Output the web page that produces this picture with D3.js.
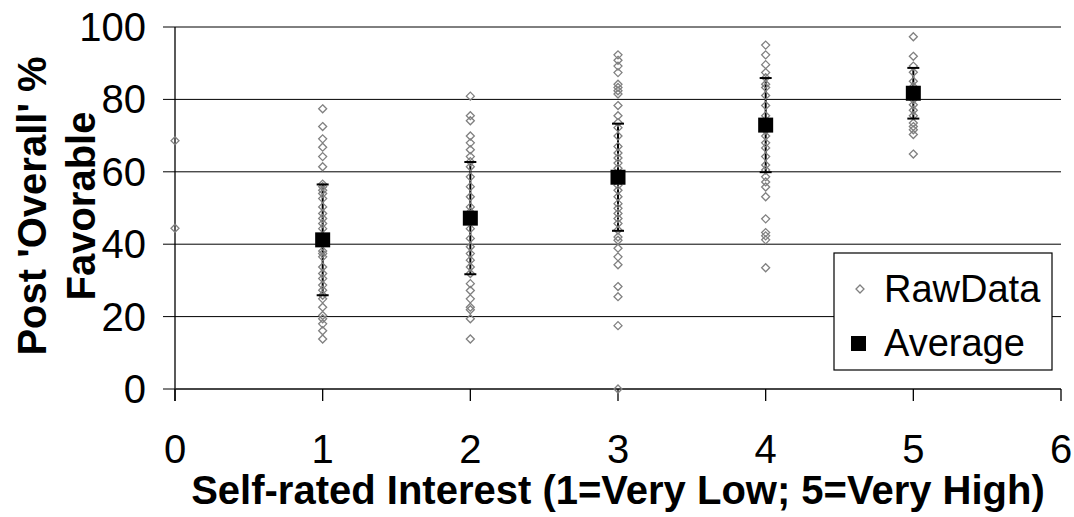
<!DOCTYPE html>
<html>
<head>
<meta charset="utf-8">
<script src="https://cdn.jsdelivr.net/npm/d3@7"></script>
<style>
  body { margin: 0; background: #fff; }
  text { font-family: "Liberation Sans", Arial, sans-serif; fill: #000; }
</style>
</head>
<body>
<svg id="chart"></svg>
<script>
// raw responses, one array per interest level
const raw0 = [68.6, 44.4];
const raw1 = [77.4, 72.5, 69.1, 66.8, 64.2, 61.4, 56.6, 55.9, 54.9, 54.0, 52.6, 50.3, 48.5, 47.1,
  45.7, 44.3, 42.0, 40.6, 38.1, 37.4, 36.5, 33.7, 31.9, 30.5, 28.7, 27.3, 25.9, 24.9, 22.6, 20.3,
  19.4, 18.0, 16.1, 13.8];
const raw2 = [80.9, 75.5, 74.1, 69.9, 68.0, 66.1, 64.2, 62.8, 61.4, 58.6, 55.9, 53.1, 50.3, 48.9,
  46.5, 44.3, 41.6, 39.3, 37.4, 35.6, 33.7, 31.9, 29.1, 27.2, 24.9, 22.6, 21.9, 19.4, 13.8];
const raw3 = [92.3, 90.8, 89.2, 87.4, 84.2, 83.3, 82.4, 81.5, 78.3, 75.5, 73.6, 72.2, 69.9, 67.0,
  65.2, 63.8, 62.4, 61.0, 59.0, 57.5, 56.3, 54.9, 53.1, 51.2, 49.9, 48.5, 47.1, 45.7, 43.9, 42.0,
  41.1, 38.9, 36.5, 34.3, 28.3, 25.5, 17.5, 0];
const raw4 = [95.0, 92.3, 89.6, 87.4, 86.0, 84.2, 83.3, 81.1, 78.3, 75.5, 73.5, 71.5, 69.9, 68.0,
  66.6, 64.2, 61.9, 60.5, 58.6, 57.2, 55.8, 53.1, 47.0, 43.2, 42.3, 41.2, 33.5];
const raw5 = [97.3, 91.9, 89.2, 87.5, 85.0, 83.5, 80.0, 78.5, 77.0, 75.5, 73.5, 72.5, 71.6, 70.3, 64.9];
const rawLevels = [raw0, raw1, raw2, raw3, raw4, raw5];

// averages with +/- error
const avgX = [1, 2, 3, 4, 5];
const avgY = [41.2, 47.2, 58.5, 72.9, 81.7];
const avgErr = [15.3, 15.5, 14.8, 13.0, 7.0];

const xTicks = [0, 1, 2, 3, 4, 5, 6];
const yTicks = [0, 20, 40, 60, 80, 100];
const legendLabels = ["RawData", "Average"];

const W = 1074, H = 517;
const plot = { left: 175, right: 1061, top: 27, bottom: 389 };

const svg = d3.select("#chart")
  .attr("width", W)
  .attr("height", H);

const x = d3.scaleLinear().domain([0, 6]).range([plot.left, plot.right]);
const y = d3.scaleLinear().domain([0, 100]).range([plot.bottom, plot.top]);

// gridlines
svg.append("g")
  .selectAll("line")
  .data(yTicks)
  .enter()
  .append("line")
  .attr("x1", plot.left - 12)
  .attr("x2", plot.right)
  .attr("y1", (d) => y(d))
  .attr("y2", (d) => y(d))
  .attr("stroke", "#000")
  .attr("stroke-width", 1);

// y axis
svg.append("line")
  .attr("x1", plot.left).attr("x2", plot.left)
  .attr("y1", plot.top).attr("y2", plot.bottom + 12)
  .attr("stroke", "#000").attr("stroke-width", 1.3);

svg.append("g")
  .selectAll("text")
  .data(yTicks)
  .enter()
  .append("text")
  .attr("x", 146)
  .attr("y", (d) => y(d) + 14)
  .attr("text-anchor", "end")
  .style("font-size", "40px")
  .text((d) => d);

// x axis
svg.append("line")
  .attr("x1", plot.left).attr("x2", plot.right)
  .attr("y1", y(0)).attr("y2", y(0))
  .attr("stroke", "#333").attr("stroke-width", 1.5);

svg.append("g")
  .selectAll("line")
  .data(xTicks)
  .enter()
  .append("line")
  .attr("x1", (d) => x(d)).attr("x2", (d) => x(d))
  .attr("y1", y(0)).attr("y2", y(0) + 12)
  .attr("stroke", "#000").attr("stroke-width", 1.3);

svg.append("g")
  .selectAll("text")
  .data(xTicks)
  .enter()
  .append("text")
  .attr("x", (d) => x(d))
  .attr("y", 463)
  .attr("text-anchor", "middle")
  .style("font-size", "40px")
  .text((d) => d);

// axis titles
svg.append("text")
  .attr("x", x(3))
  .attr("y", 504)
  .attr("text-anchor", "middle")
  .style("font-size", "40px")
  .style("font-weight", "bold")
  .text("Self-rated Interest (1=Very Low; 5=Very High)");

const yTitle = svg.append("text")
  .attr("transform", `translate(0, ${(plot.top + plot.bottom) / 2 - 2}) rotate(-90)`)
  .attr("text-anchor", "middle")
  .style("font-size", "40px")
  .style("font-weight", "bold");
yTitle.append("tspan").attr("x", 0).attr("y", 46).text("Post 'Overall' %");
yTitle.append("tspan").attr("x", 0).attr("y", 95).text("Favorable");

// error bars
const avgData = avgX.map((v, i) => ({ x: v, y: avgY[i], e: avgErr[i] }));
svg.append("g")
  .selectAll("line")
  .data(avgData)
  .enter()
  .append("line")
  .attr("x1", (d) => x(d.x)).attr("x2", (d) => x(d.x))
  .attr("y1", (d) => y(d.y + d.e)).attr("y2", (d) => y(d.y - d.e))
  .attr("stroke", "#000").attr("stroke-width", 2);

// raw points
const diamond = "M0,-4L4,0L0,4L-4,0Z";
const rawData = rawLevels.flatMap((vals, lvl) => vals.map((v) => ({ x: lvl, y: v })));
svg.append("g")
  .selectAll("path")
  .data(rawData)
  .enter()
  .append("path")
  .attr("d", diamond)
  .attr("transform", (d) => `translate(${x(d.x)}, ${y(d.y)})`)
  .attr("fill", "none")
  .attr("stroke", "#808080")
  .attr("stroke-width", 1.3);

// error caps
const caps = avgData.flatMap((d) => [d.y + d.e, d.y - d.e].map((v) => ({ x: d.x, y: v })));
svg.append("g")
  .selectAll("line")
  .data(caps)
  .enter()
  .append("line")
  .attr("x1", (d) => x(d.x) - 6).attr("x2", (d) => x(d.x) + 6)
  .attr("y1", (d) => y(d.y)).attr("y2", (d) => y(d.y))
  .attr("stroke", "#000").attr("stroke-width", 2);

// averages
svg.append("g")
  .selectAll("rect")
  .data(avgData)
  .enter()
  .append("rect")
  .attr("x", (d) => x(d.x) - 7.5)
  .attr("y", (d) => y(d.y) - 7.5)
  .attr("width", 15)
  .attr("height", 15)
  .attr("fill", "#000");

// legend
const legend = svg.append("g").attr("transform", "translate(834, 253)");
legend.append("rect")
  .attr("width", 218).attr("height", 117)
  .attr("fill", "#fff").attr("stroke", "#000").attr("stroke-width", 1.2);
legend.append("path")
  .attr("d", diamond)
  .attr("transform", "translate(26, 36)")
  .attr("fill", "none").attr("stroke", "#808080").attr("stroke-width", 1.3);
legend.append("rect")
  .attr("x", 17).attr("y", 83).attr("width", 15).attr("height", 15)
  .attr("fill", "#000");
legend.selectAll("text")
  .data(legendLabels)
  .enter()
  .append("text")
  .attr("x", 50)
  .attr("y", (d, i) => 49 + i * 54)
  .style("font-size", "38px")
  .text((d) => d);
</script>
</body>
</html>
